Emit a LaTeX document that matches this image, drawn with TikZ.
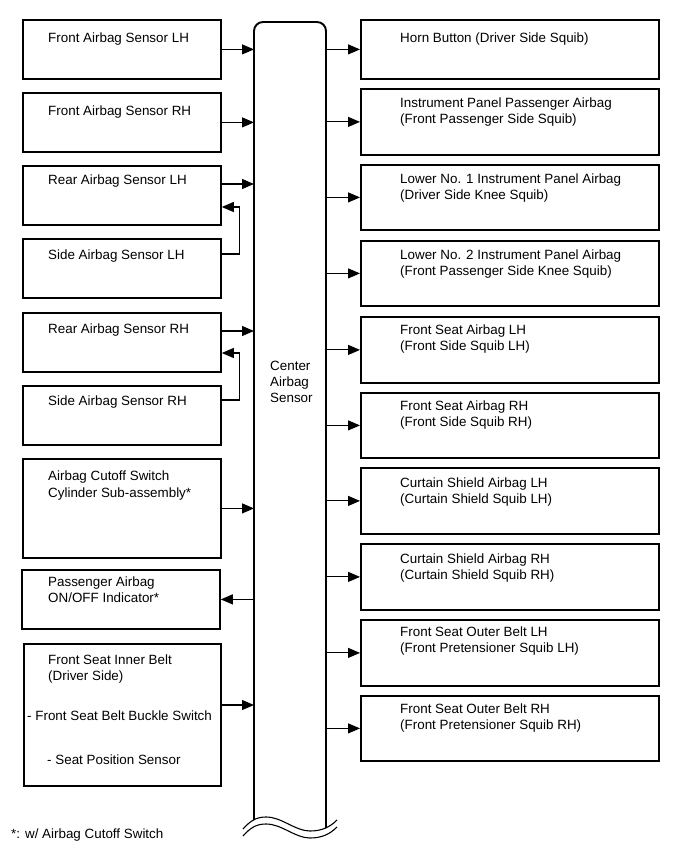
\documentclass[tikz,border=0pt]{standalone}
\usepackage{fontspec}
\setmainfont{Liberation Sans}
\usetikzlibrary{arrows.meta,calc}
\begin{document}
\begin{tikzpicture}[x=1pt,y=-1pt,
  box/.style={draw, line width=1.8pt, inner sep=0pt, anchor=north west},
  conn/.style={line width=1.1pt, -{Triangle[length=12pt,width=10pt]}},
  wire/.style={line width=1.1pt},
  col/.style={line width=1.9pt},
  txt/.style={anchor=base west, inner sep=0pt, font=\fontsize{13.4}{16}\selectfont},
]
\useasboundingbox (0,0) rectangle (690,853);
% left boxes
\node[box, minimum width=198pt, minimum height=59pt] (L1) at (22,19) {};
\node[box, minimum width=198pt, minimum height=59pt] (L2) at (22,92) {};
\node[box, minimum width=198pt, minimum height=59pt] (L3) at (22,165) {};
\node[box, minimum width=198pt, minimum height=59pt] (L4) at (22,238) {};
\node[box, minimum width=198pt, minimum height=59pt] (L5) at (22,312) {};
\node[box, minimum width=198pt, minimum height=59pt] (L6) at (22,385) {};
\node[box, minimum width=198pt, minimum height=99pt] (L7) at (22,458) {};
\node[box, minimum width=198pt, minimum height=59pt] (L8) at (21,569) {};
\node[box, minimum width=197pt, minimum height=142pt] (L9) at (23,643) {};
% right boxes
\node[box, minimum width=298pt, minimum height=59pt] (R1) at (360,19) {};
\node[box, minimum width=298pt, minimum height=66pt] (R2) at (360,88) {};
\node[box, minimum width=298pt, minimum height=65pt] (R3) at (360,164) {};
\node[box, minimum width=298pt, minimum height=65pt] (R4) at (360,240) {};
\node[box, minimum width=298pt, minimum height=66pt] (R5) at (360,316) {};
\node[box, minimum width=298pt, minimum height=65pt] (R6) at (360,392) {};
\node[box, minimum width=298pt, minimum height=66pt] (R7) at (360,467) {};
\node[box, minimum width=298pt, minimum height=66pt] (R8) at (360,543) {};
\node[box, minimum width=298pt, minimum height=66pt] (R9) at (360,619) {};
\node[box, minimum width=298pt, minimum height=65pt] (R10) at (360,695) {};
% left texts
\node[txt] (tL1) at (48,43) {Front Airbag Sensor LH};
\node[txt] (tL2) at (48,116) {Front Airbag Sensor RH};
\node[txt] (tL3) at (48,185) {Rear Airbag Sensor LH};
\node[txt] (tL4) at (48,259) {Side Airbag Sensor LH};
\node[txt] (tL5) at (48,333) {Rear Airbag Sensor RH};
\node[txt] (tL6) at (48,405) {Side Airbag Sensor RH};
\node[txt] (tL7a) at (48,480) {Airbag Cutoff Switch};
\node[txt] (tL7b) at (48,497) {Cylinder Sub-assembly*};
\node[txt] (tL8a) at (48,586) {Passenger Airbag};
\node[txt] (tL8b) at (48,602) {ON/OFF Indicator*};
\node[txt] (tL9a) at (48,664) {Front Seat Inner Belt};
\node[txt] (tL9b) at (48,680) {(Driver Side)};
\node[txt] (tL9c) at (27,720) {- Front Seat Belt Buckle Switch};
\node[txt] (tL9d) at (47,764) {- Seat Position Sensor};
% right texts
\node[txt] (tR1) at (400,43) {Horn Button (Driver Side Squib)};
\node[txt] (tR2a) at (400,108) {Instrument Panel Passenger Airbag};
\node[txt] (tR2b) at (400,124) {(Front Passenger Side Squib)};
\node[txt] (tR3a) at (400,183) {Lower No. 1 Instrument Panel Airbag};
\node[txt] (tR3b) at (400,199) {(Driver Side Knee Squib)};
\node[txt] (tR4a) at (400,259) {Lower No. 2 Instrument Panel Airbag};
\node[txt] (tR4b) at (400,275) {(Front Passenger Side Knee Squib)};
\node[txt] (tR5a) at (400,334) {Front Seat Airbag LH};
\node[txt] (tR5b) at (400,350) {(Front Side Squib LH)};
\node[txt] (tR6a) at (400,410) {Front Seat Airbag RH};
\node[txt] (tR6b) at (400,426) {(Front Side Squib RH)};
\node[txt] (tR7a) at (400,487) {Curtain Shield Airbag LH};
\node[txt] (tR7b) at (400,503) {(Curtain Shield Squib LH)};
\node[txt] (tR8a) at (400,563) {Curtain Shield Airbag RH};
\node[txt] (tR8b) at (400,579) {(Curtain Shield Squib RH)};
\node[txt] (tR9a) at (400,636) {Front Seat Outer Belt LH};
\node[txt] (tR9b) at (400,652) {(Front Pretensioner Squib LH)};
\node[txt] (tR10a) at (400,713) {Front Seat Outer Belt RH};
\node[txt] (tR10b) at (400,729) {(Front Pretensioner Squib RH)};
% center column
\coordinate (CL) at (254,0);
\coordinate (CR) at (326,0);
\draw[col, rounded corners=9pt] (254,820) -- (254,22) -- (326,22) -- (326,828);
\draw[wire] (243,829) .. controls (251,820) and (257,817) .. (266,817) .. controls (282,817) and (295,831) .. (310,831) .. controls (322,831) and (330,827) .. (337,820);
\draw[wire] (243,836) .. controls (251,827) and (257,824) .. (266,824) .. controls (282,824) and (295,838) .. (310,838) .. controls (322,838) and (330,834) .. (337,827);
\node[txt] (tC1) at (270,370) {Center};
\node[txt] (tC2) at (270,386) {Airbag};
\node[txt] (tC3) at (270,402) {Sensor};
% footnote
\node[txt] (fn) at (11,838) {*: w/ Airbag Cutoff Switch};
% connectors left -> column
\draw[conn] (L1.east) -- (L1.east -| CL);
\draw[conn] (L2.east) -- (L2.east -| CL);
\coordinate (a3) at ($(L3.north east)+(0,19)$);
\draw[conn] (a3) -- (a3 -| CL);
\coordinate (a5) at ($(L5.north east)+(0,19)$);
\draw[conn] (a5) -- (a5 -| CL);
\draw[conn] (L7.east) -- (L7.east -| CL);
\draw[conn] (L8.east -| CL) -- (L8.east);
\coordinate (a9) at ($(L9.north east)+(0,62)$);
\draw[conn] (a9) -- (a9 -| CL);
% side sensor links
\coordinate (s4) at ($(L4.north east)+(0,16)$);
\coordinate (e3) at ($(L3.north east)+(0,42)$);
\draw[conn] (s4) -- ++(18,0) |- (e3);
\coordinate (s6) at ($(L6.north east)+(0,15)$);
\coordinate (e5) at ($(L5.north east)+(0,41)$);
\draw[conn] (s6) -- ++(18,0) |- (e5);
% connectors column -> right
\foreach \r in {R1,R2,R3,R4,R5,R6,R7,R8,R9,R10}
  \draw[conn] (\r.west -| CR) -- (\r.west);
\end{tikzpicture}
\end{document}
